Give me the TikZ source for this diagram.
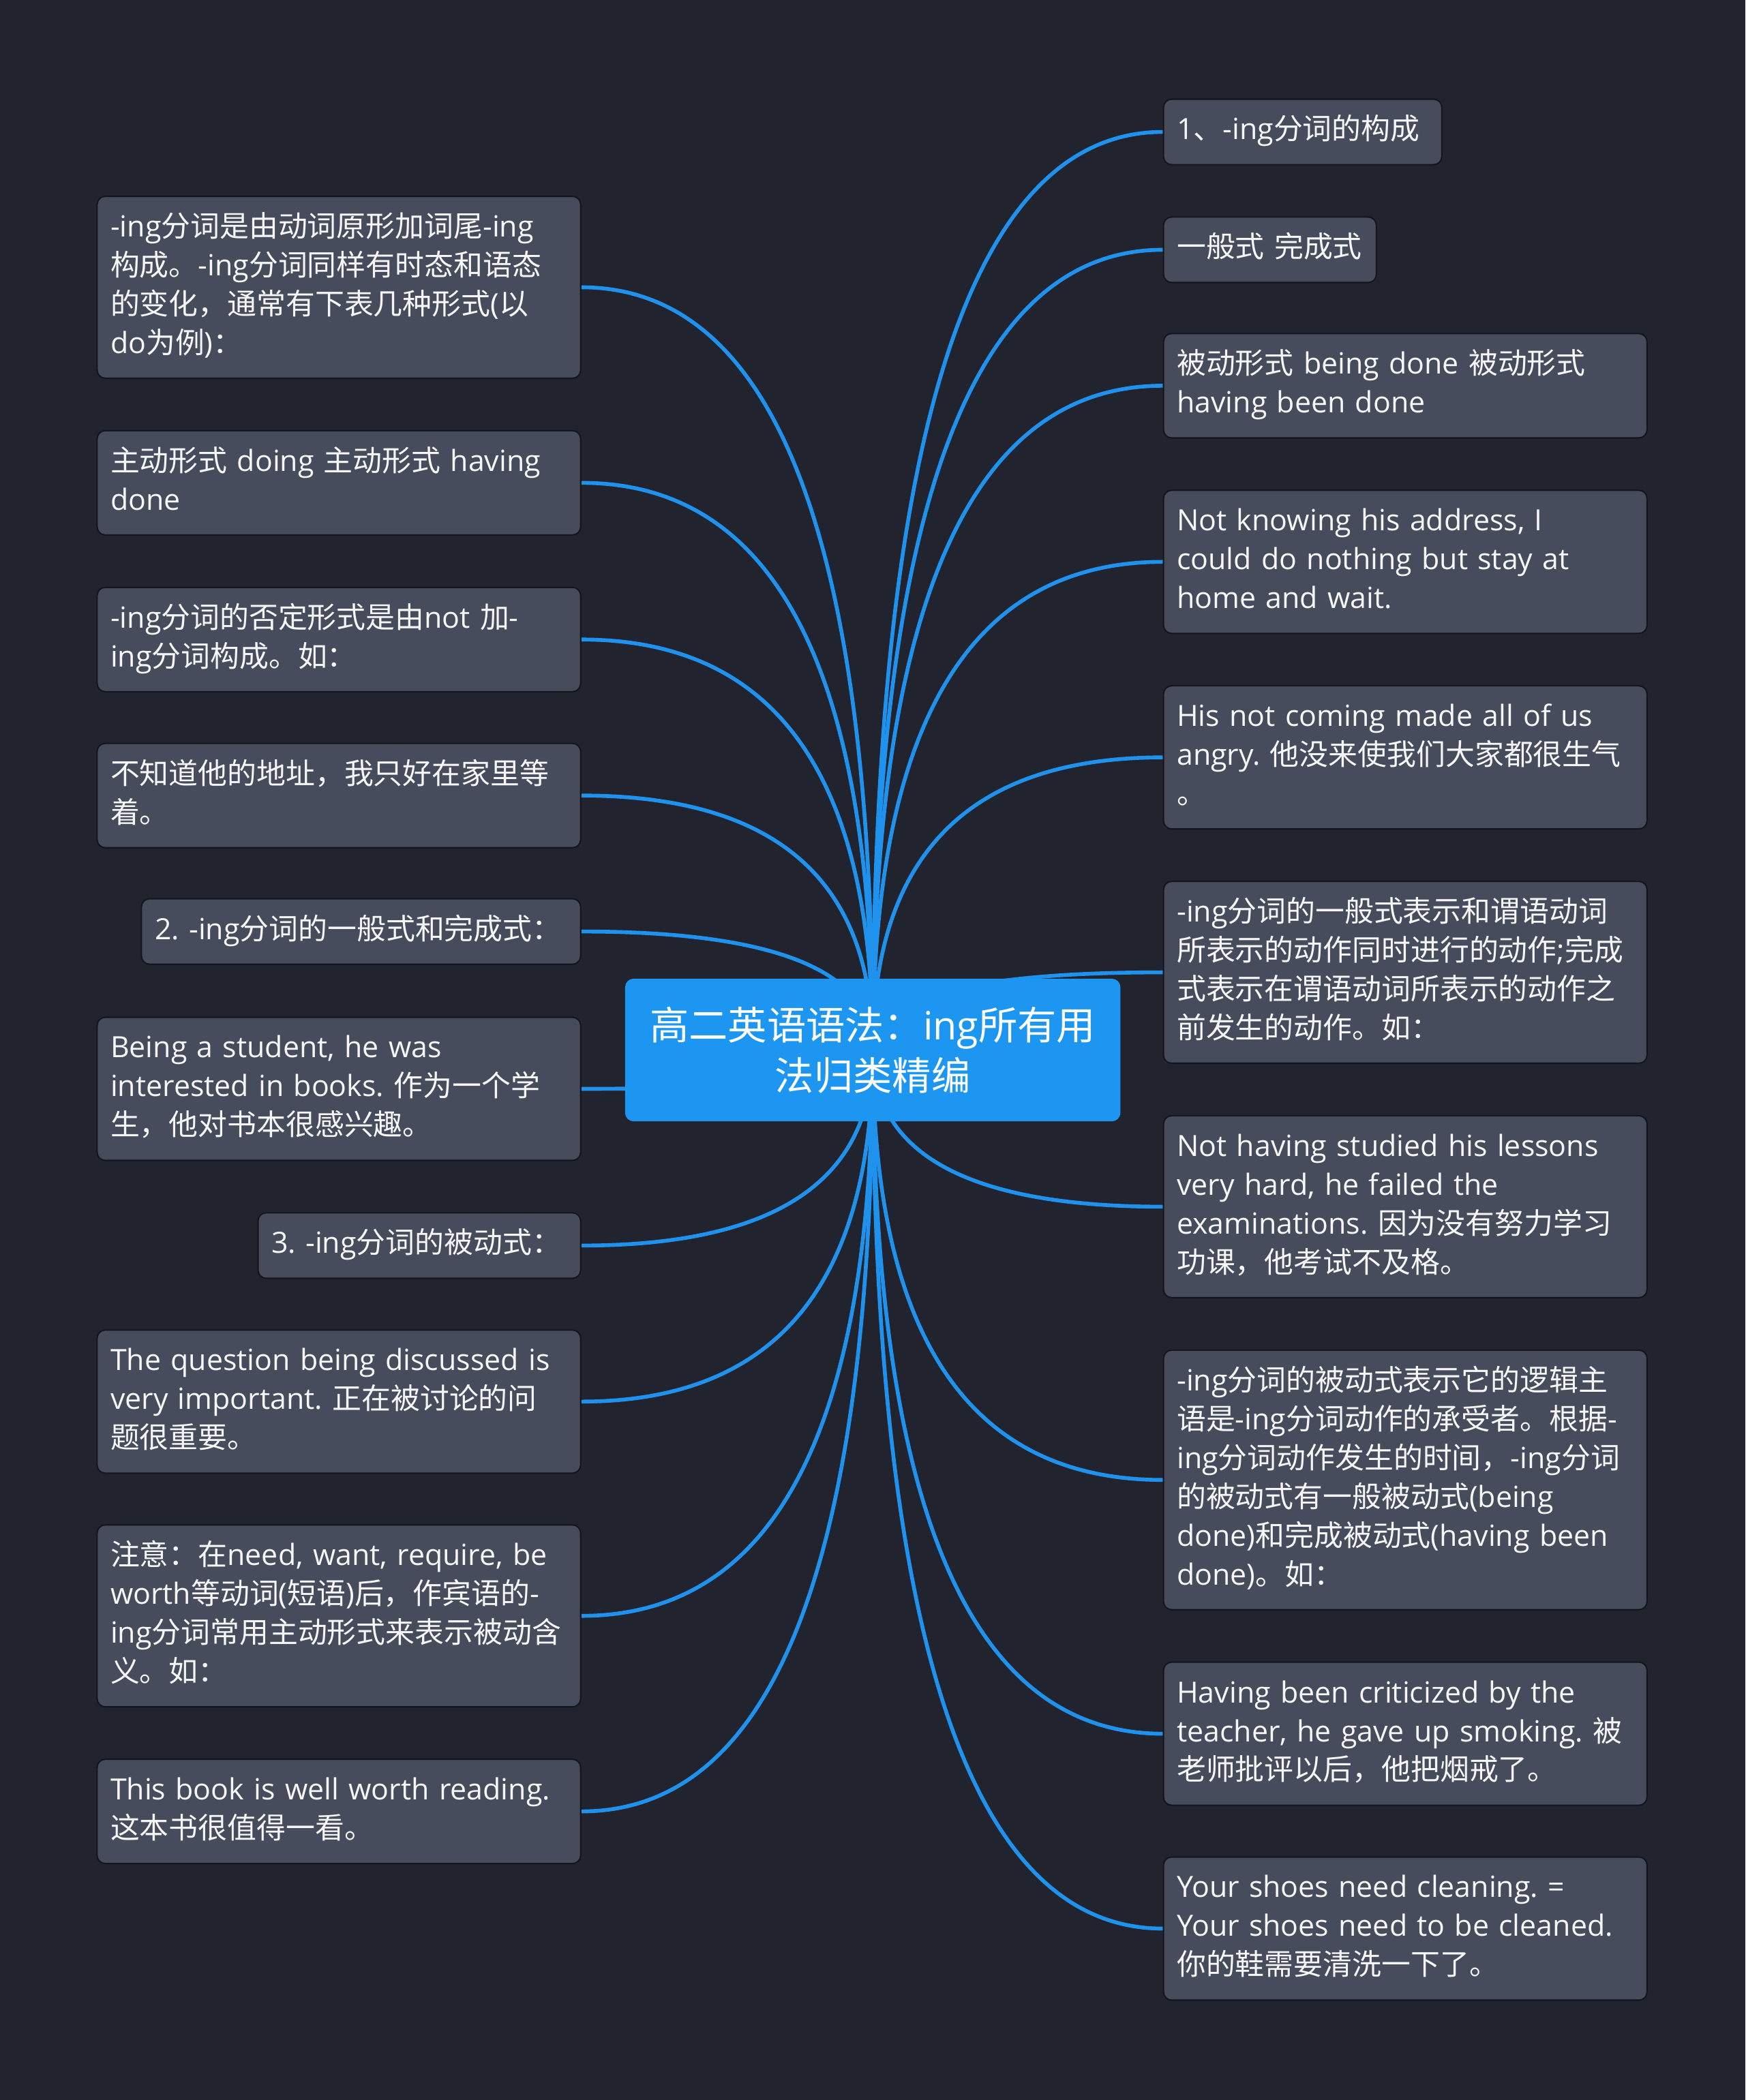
\documentclass[tikz,border=0pt]{standalone}
\usepackage{fontspec}
\usepackage{tikz}
\usetikzlibrary{calc}
\setmainfont{Open Sans}
\newfontfamily\latinfont{Open Sans}
\newfontfamily\cjkfont{Noto Sans CJK SC}

% chinese characters in the cjk font
\XeTeXinterchartokenstate=1
\newXeTeXintercharclass\cjkclass
\newcount\cjkchar
\newcommand{\cjkrange}[3]{\cjkchar=#1\relax
  \loop\XeTeXcharclass\cjkchar=#3\advance\cjkchar by 1
  \ifnum\cjkchar<#2\relax\repeat}
\cjkrange{"0021}{"0180}{0}
\cjkrange{"3000}{"3040}{\cjkclass}
\cjkrange{"4E00}{"A000}{\cjkclass}
\cjkrange{"FF00}{"FFF0}{\cjkclass}
\XeTeXinterchartoks 0 \cjkclass = {\cjkfont}
\XeTeXinterchartoks 4095 \cjkclass = {\cjkfont}
\XeTeXinterchartoks \cjkclass 0 = {\latinfont}
\XeTeXinterchartoks 4095 0 = {\latinfont}

\definecolor{pagebg}{RGB}{33,36,47}
\definecolor{leaffill}{RGB}{70,76,91}
\definecolor{leafline}{RGB}{20,22,28}
\definecolor{leaftext}{RGB}{246,246,246}
\definecolor{hubblue}{RGB}{28,150,241}
\definecolor{edgeblue}{RGB}{31,146,238}

\pgfdeclarelayer{bg}
\pgfdeclarelayer{edges}
\pgfsetlayers{bg,edges,main}

\tikzset{
  leaf/.style={draw=leafline, line width=0.6pt, fill=leaffill, rounded corners=1.2mm,
    text=leaftext, align=left, text width=67mm, inner xsep=1.96mm, inner ysep=1.96mm,
    font=\fontsize{12.2pt}{16.2pt}\selectfont\frenchspacing,
    execute at begin node=\strut, execute at end node=\strut},
  hub/.style={fill=hubblue, draw=hubblue, rounded corners=1.2mm, text=white, align=center,
    minimum width=72.5mm, minimum height=20.8mm, inner sep=0pt,
    font=\fontsize{16.3pt}{21.2pt}\selectfont},
  twig/.style={draw=edgeblue, line width=1.6pt}
}
\newcommand{\branch}[1]{\draw[twig] (hub.center) .. controls ($(hub.center)!.667!(hub.center |- #1)$) and ($(#1)!.667!(hub.center |- #1)$) .. (#1);}

\begin{document}
\begin{tikzpicture}[x=0.19647mm, y=-0.19647mm]
        \useasboundingbox (0,0) rectangle (1303,1568);
        \begin{pgfonlayer}{bg}
        \fill[pagebg] (0,0) rectangle (1303,1568);
        \end{pgfonlayer}

        \node[hub] (hub) at (651.5,784) {高二英语语法：ing所有用\\法归类精编};

        % left side
        \node[leaf, anchor=east] (l1) at (434,214.5) {-ing分词是由动词原形加词尾-ing\\构成。-ing分词同样有时态和语态\\的变化，通常有下表几种形式(以\\do为例)：};
        \node[leaf, anchor=east] (l2) at (434,360.5) {主动形式 doing 主动形式 having\\done};
        \node[leaf, anchor=east] (l3) at (434,477.5) {-ing分词的否定形式是由not 加-\\ing分词构成。如：};
        \node[leaf, anchor=east] (l4) at (434,594) {不知道他的地址，我只好在家里等\\着。};
        \node[leaf, anchor=east, text width=60.5mm] (l5) at (434,695.5) {2. -ing分词的一般式和完成式：};
        \node[leaf, anchor=east] (l6) at (434,813) {Being a student, he was\\interested in books. 作为一个学\\生，他对书本很感兴趣。};
        \node[leaf, anchor=east, text width=43.4mm] (l7) at (434,930) {3. -ing分词的被动式：};
        \node[leaf, anchor=east] (l8) at (434,1046.5) {The question being discussed is\\very important. 正在被讨论的问\\题很重要。};
        \node[leaf, anchor=east] (l9) at (434,1206.5) {注意：在need, want, require, be\\worth等动词(短语)后，作宾语的-\\ing分词常用主动形式来表示被动含\\义。如：};
        \node[leaf, anchor=east] (l10) at (434,1352.5) {This book is well worth reading.\\这本书很值得一看。};

        % right side
        \node[leaf, anchor=west, text width=36.9mm] (r1) at (868,98.5) {1、-ing分词的构成};
        \node[leaf, anchor=west, text width=27.3mm] (r2) at (868,186.5) {一般式 完成式};
        \node[leaf, anchor=west] (r3) at (868,288) {被动形式 being done 被动形式\\having been done};
        \node[leaf, anchor=west] (r4) at (868,419.5) {Not knowing his address, I\\could do nothing but stay at\\home and wait.};
        \node[leaf, anchor=west] (r5) at (868,565.5) {His not coming made all of us\\angry. 他没来使我们大家都很生气\\。};
        \node[leaf, anchor=west] (r6) at (868,726) {-ing分词的一般式表示和谓语动词\\所表示的动作同时进行的动作;完成\\式表示在谓语动词所表示的动作之\\前发生的动作。如：};
        \node[leaf, anchor=west] (r7) at (868,901) {Not having studied his lessons\\very hard, he failed the\\examinations. 因为没有努力学习\\功课，他考试不及格。};
        \node[leaf, anchor=west] (r8) at (868,1105) {-ing分词的被动式表示它的逻辑主\\语是-ing分词动作的承受者。根据-\\ing分词动作发生的时间，-ing分词\\的被动式有一般被动式(being\\done)和完成被动式(having been\\done)。如：};
        \node[leaf, anchor=west] (r9) at (868,1294.5) {Having been criticized by the\\teacher, he gave up smoking. 被\\老师批评以后，他把烟戒了。};
        \node[leaf, anchor=west] (r10) at (868,1440) {Your shoes need cleaning. =\\Your shoes need to be cleaned.\\你的鞋需要清洗一下了。};

        % links
        \begin{pgfonlayer}{edges}
        \foreach \n in {l1,l2,l3,l4,l5,l6,l7,l8,l9,l10} {\branch{\n.east}}
        \foreach \n in {r1,r2,r3,r4,r5,r6,r7,r8,r9,r10} {\branch{\n.west}}
        \end{pgfonlayer}
    \end{tikzpicture}
\end{document}
